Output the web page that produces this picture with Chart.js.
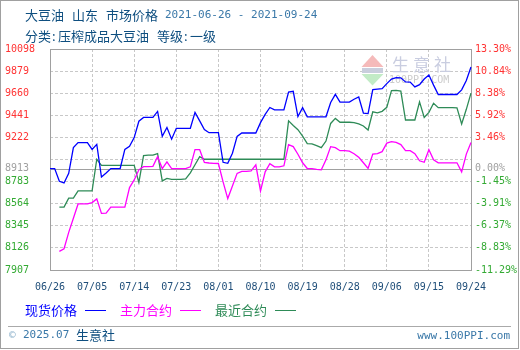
<!DOCTYPE html>
<html>
<head>
<meta charset="utf-8">
<script src="https://cdn.jsdelivr.net/npm/chart.js@4.4.1/dist/chart.umd.min.js"></script>
<style>
  html, body { margin: 0; padding: 0; background: #ffffff; }
  canvas { display: block; }
</style>
</head>
<body>
<canvas id="chart" width="520" height="350"></canvas>
<script>
// Daily dates, 2021-06-26 .. 2021-09-24
const dates = [
  '06/26','06/27','06/28','06/29','06/30',
  '07/01','07/02','07/03','07/04','07/05','07/06','07/07','07/08','07/09','07/10',
  '07/11','07/12','07/13','07/14','07/15','07/16','07/17','07/18','07/19','07/20',
  '07/21','07/22','07/23','07/24','07/25','07/26','07/27','07/28','07/29','07/30','07/31',
  '08/01','08/02','08/03','08/04','08/05','08/06','08/07','08/08','08/09','08/10',
  '08/11','08/12','08/13','08/14','08/15','08/16','08/17','08/18','08/19','08/20',
  '08/21','08/22','08/23','08/24','08/25','08/26','08/27','08/28','08/29','08/30','08/31',
  '09/01','09/02','09/03','09/04','09/05','09/06','09/07','09/08','09/09','09/10',
  '09/11','09/12','09/13','09/14','09/15','09/16','09/17','09/18','09/19','09/20',
  '09/21','09/22','09/23','09/24'
];

// 现货价格 (spot price, 元/吨)
const spotPrice = [
  8913, 8913, 8786, 8770, 8865, 9120, 9170, 9170, 9170, 9102,
  9152, 8828, 8868, 8913, 8913, 8913, 9102, 9133, 9220, 9382,
  9420, 9420, 9420, 9479, 9232, 9320, 9204, 9312, 9312, 9312,
  9312, 9470, 9385, 9300, 9268, 9268, 9268, 8975, 8965, 9065,
  9232, 9265, 9265, 9265, 9265, 9368, 9450, 9518, 9494, 9494,
  9494, 9670, 9678, 9428, 9516, 9426, 9426, 9426, 9426, 9426,
  9568, 9648, 9572, 9572, 9572, 9600, 9622, 9462, 9458, 9695,
  9700, 9705, 9755, 9800, 9815, 9812, 9772, 9770, 9722, 9745,
  9800, 9840, 9740, 9647, 9647, 9647, 9647, 9647, 9693, 9786,
  9919
];

// 主力合约 (main futures contract)
const mainContract = [
  null, null, 8092, 8118, 8280, 8420, 8562, 8562, 8562, 8575,
  8612, 8468, 8470, 8531, 8531, 8531, 8531, 8724, 8800, 8900,
  8932, 8932, 8935, 9030, 8913, 8980, 8913, 8913, 8913, 8913,
  8930, 9100, 9100, 8973, 8968, 8965, 8963, 8780, 8615, 8740,
  8865, 8885, 8885, 8890, 8950, 8690, 8880, 8960, 8930, 8930,
  8940, 9150, 9130, 9055, 8970, 8913, 8913, 8905, 8900, 9000,
  9130, 9120, 9090, 9090, 9085, 9060, 9025, 8970, 8915, 9056,
  9060, 9080, 9165, 9180, 9172, 9150, 9090, 9090, 9060, 8990,
  8975, 9100, 9000, 8970, 8970, 8970, 8970, 8970, 8880, 9056,
  9172
];

// 最近合约 (nearest futures contract)
const nearContract = [
  null, null, 8531, 8531, 8620, 8620, 8692, 8692, 8692, 8692,
  9005, 8945, 8945, 8945, 8945, 8945, 8945, 8945, 8945, 8775,
  9040, 9045, 9045, 9060, 8790, 8815, 8805, 8805, 8805, 8810,
  8870, 8950, 9030, 9005, 9005, 9005, 9005, 9005, 9005, 9005,
  9005, 9005, 9005, 9005, 9005, 9005, 9005, 9005, 9005, 9005,
  9005, 9386, 9340, 9298, 9235, 9160, 9158, 9140, 9120, 9185,
  9360, 9410, 9372, 9372, 9372, 9368, 9355, 9335, 9295, 9475,
  9465, 9480, 9520, 9685, 9687, 9680, 9394, 9394, 9394, 9574,
  9420, 9470, 9560, 9517, 9517, 9517, 9517, 9514, 9355, 9500,
  9660
];

// Reference price for the percentage axis and the tick grid
const baseValue = 8913;
const axisTicks = [7907, 8126.1, 8345.2, 8564.3, 8783.4, 9002.5, 9221.6, 9440.7, 9659.8, 9878.9, 10098];
const leftTickLabels = ['7907', '8126', '8345', '8564', '8783', '', '9222', '9441', '9660', '9879', '10098'];
const rightTickLabels = ['-11.29%', '-8.83%', '-6.37%', '-3.91%', '-1.45%', '', '3.46%', '5.92%', '8.38%', '10.84%', '13.30%'];
const baseLeftLabel = '8913';
const baseRightLabel = '0.00%';
const xTickStep = 9;

const seriesNames = ['现货价格', '主力合约', '最近合约'];
const seriesColors = ['#0000ff', '#ff00ff', '#2e8b57'];

const CJK = '"Noto Sans CJK SC", "Noto Sans CJK JP", sans-serif';
const MONO = '"DejaVu Sans Mono", "Liberation Mono", monospace';
const TEXT_BLUE = '#0f4f80';
const DIGIT_BLUE = '#3a78a8';
const GRID = '#c8c8c8';
const FRAME = '#a0a0a0';

const isBase = v => Math.abs(v - baseValue) < 0.01;
function buildValueTicks(axis) {
  const t = axisTicks.map(v => ({ value: v }));
  t.push({ value: baseValue });
  t.sort((a, b) => a.value - b.value);
  axis.ticks = t;
}
function labelFor(value, labels, baseLabel) {
  if (isBase(value)) return baseLabel;
  const i = axisTicks.findIndex(v => Math.abs(v - value) < 0.01);
  return i >= 0 ? labels[i] : '';
}
function tickColor(c) {
  const v = c.tick.value;
  if (isBase(v)) return '#a0a0a0';
  return v > baseValue ? '#ff3333' : '#33aa33';
}

// Frame, base line and watermark behind the series
const backdrop = {
  id: 'backdrop',
  beforeDraw(chart) {
    const ctx = chart.ctx;
    ctx.save();
    ctx.fillStyle = '#ffffff';
    ctx.fillRect(0, 0, chart.width, chart.height);
    ctx.restore();
  },
  beforeDatasetsDraw(chart) {
    const { ctx, chartArea: a, scales } = chart;
    ctx.save();
    // watermark logo
    ctx.fillStyle = '#f5baba';
    ctx.beginPath();
    ctx.moveTo(372.5, 55); ctx.lineTo(383.5, 67); ctx.lineTo(361.5, 67); ctx.closePath(); ctx.fill();
    ctx.fillStyle = '#c9cedd';
    ctx.fillRect(362, 68, 21, 5);
    ctx.fillStyle = '#c2ebc6';
    ctx.beginPath();
    ctx.moveTo(361.5, 74); ctx.lineTo(383.5, 74); ctx.lineTo(372.5, 85.5); ctx.closePath(); ctx.fill();
    ctx.fillStyle = '#c9cde0';
    ctx.font = '17px ' + CJK;
    ctx.textBaseline = 'middle';
    ctx.textAlign = 'left';
    ['生', '意', '社'].forEach((ch, i) => ctx.fillText(ch, 392 + i * 21, 64.5));
    ctx.fillStyle = '#cccccc';
    ctx.font = '10px ' + MONO;
    ctx.fillText('100PPI.COM', 389, 80);

    // base line
    const y = Math.round(scales.y.getPixelForValue(baseValue)) + 0.5;
    ctx.strokeStyle = '#a0a0a0';
    ctx.lineWidth = 1;
    ctx.beginPath();
    ctx.moveTo(a.left, y); ctx.lineTo(a.right, y); ctx.stroke();

    // plot frame
    ctx.strokeStyle = FRAME;
    ctx.strokeRect(Math.round(a.left) + 0.5, Math.round(a.top) + 0.5,
                   Math.round(a.right - a.left), Math.round(a.bottom - a.top));
    ctx.restore();
  }
};

// Titles, legend and footer
const captions = {
  id: 'captions',
  afterDraw(chart) {
    const ctx = chart.ctx;
    ctx.save();
    ctx.textBaseline = 'middle';
    ctx.textAlign = 'left';

    ctx.fillStyle = TEXT_BLUE;
    ctx.font = '13px ' + CJK;
    ctx.fillText('大豆油', 25, 15);
    ctx.fillText('山东', 72, 15);
    ctx.fillText('市场价格', 106, 15);
    ctx.fillStyle = DIGIT_BLUE;
    ctx.font = '11px ' + MONO;
    ctx.fillText('2021-06-26 - 2021-09-24', 165, 15.5);

    ctx.fillStyle = TEXT_BLUE;
    ctx.font = '13px ' + CJK;
    ctx.fillText('分类', 25, 36);
    ctx.fillText(':', 52, 36);
    ctx.fillText('压榨成品大豆油', 58, 36);
    ctx.fillText('等级', 157, 36);
    ctx.fillText(':', 184, 36);
    ctx.fillText('一级', 190, 36);

    // legend
    const legendX = [25, 120, 215];
    seriesNames.forEach((name, i) => {
      ctx.fillStyle = seriesColors[i];
      ctx.font = '13px ' + CJK;
      ctx.fillText(name, legendX[i], 310);
      ctx.strokeStyle = seriesColors[i];
      ctx.lineWidth = 1;
      ctx.beginPath();
      ctx.moveTo(legendX[i] + 60, 310.5);
      ctx.lineTo(legendX[i] + 81, 310.5);
      ctx.stroke();
    });

    // footer
    ctx.strokeStyle = '#aaaaaa';
    ctx.lineWidth = 1;
    ctx.beginPath();
    ctx.moveTo(8, 326.5); ctx.lineTo(511, 326.5); ctx.stroke();

    ctx.fillStyle = '#8fb3cc';
    ctx.font = '11px ' + MONO;
    ctx.fillText('©', 9, 335);
    ctx.fillStyle = DIGIT_BLUE;
    ctx.fillText('2025.07', 23, 335.5);
    ctx.fillStyle = TEXT_BLUE;
    ctx.font = '13px ' + CJK;
    ctx.fillText('生意社', 76, 335);
    ctx.fillStyle = DIGIT_BLUE;
    ctx.font = '11px ' + MONO;
    ctx.textAlign = 'right';
    ctx.fillText('www.100PPI.com', 510, 336.5);

    // outer border
    ctx.strokeStyle = '#a0a0a0';
    ctx.strokeRect(0.5, 0.5, 518, 348);
    ctx.restore();
  }
};

const datasets = [
  { label: seriesNames[0], data: spotPrice, borderColor: seriesColors[0] },
  { label: seriesNames[1], data: mainContract, borderColor: seriesColors[1] },
  { label: seriesNames[2], data: nearContract, borderColor: seriesColors[2] }
].map(d => Object.assign(d, {
  borderWidth: 1.3, pointRadius: 0, tension: 0, fill: false, yAxisID: 'y'
}));

new Chart(document.getElementById('chart'), {
  type: 'line',
  data: { labels: dates, datasets },
  plugins: [backdrop, captions],
  options: {
    responsive: false,
    animation: false,
    devicePixelRatio: 1,
    layout: { padding: { left: 5, right: 0, top: 49, bottom: 50 } },
    plugins: { legend: { display: false }, tooltip: { enabled: false }, title: { display: false } },
    scales: {
      x: {
        type: 'category',
        offset: false,
        afterBuildTicks: axis => { axis.ticks = axis.ticks.filter(t => t.value % xTickStep === 0); },
        afterFit: s => { s.height = 30; },
        grid: {
          drawTicks: false,
          color: c => (c.index === 0 || c.index === dates.filter((_, i) => i % xTickStep === 0).length - 1) ? 'rgba(0,0,0,0)' : GRID,
          lineWidth: 1
        },
        border: { display: false, dash: [3, 2] },
        ticks: {
          autoSkip: false, maxRotation: 0, minRotation: 0, padding: 11,
          color: '#1f4e79', font: { family: MONO, size: 10 }
        }
      },
      y: {
        position: 'left',
        min: axisTicks[0],
        max: axisTicks[axisTicks.length - 1],
        afterBuildTicks: buildValueTicks,
        afterFit: s => { s.width = 45; },
        grid: {
          drawTicks: false,
          color: c => (isBase(c.tick.value) || c.index === 0 || c.tick.value === axisTicks[axisTicks.length - 1]) ? 'rgba(0,0,0,0)' : GRID,
          lineWidth: 1
        },
        border: { display: false, dash: [3, 2] },
        ticks: {
          autoSkip: false, crossAlign: 'far', padding: 0,
          color: tickColor, font: { family: MONO, size: 10 },
          callback: v => labelFor(v, leftTickLabels, baseLeftLabel)
        }
      },
      y2: {
        position: 'right',
        min: axisTicks[0],
        max: axisTicks[axisTicks.length - 1],
        afterBuildTicks: buildValueTicks,
        afterFit: s => { s.width = 49; },
        grid: { drawOnChartArea: false, drawTicks: false },
        border: { display: false },
        ticks: {
          autoSkip: false, padding: 4,
          color: tickColor, font: { family: MONO, size: 10 },
          callback: v => labelFor(v, rightTickLabels, baseRightLabel)
        }
      }
    }
  }
});
</script>
</body>
</html>
